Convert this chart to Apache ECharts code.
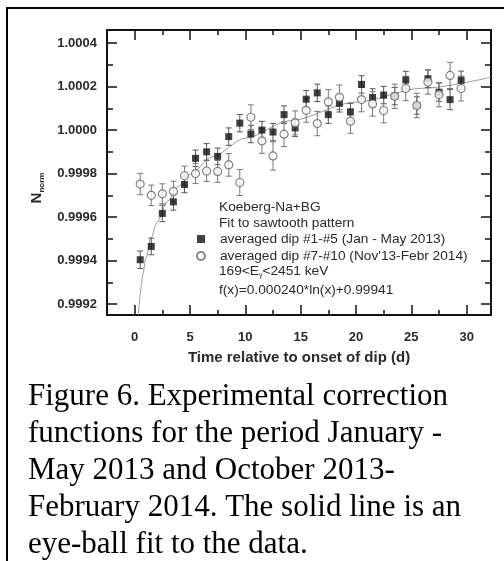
<!DOCTYPE html>
<html><head><meta charset="utf-8">
<script src="https://cdn.jsdelivr.net/npm/echarts@6/dist/echarts.min.js"></script>
<style>html,body{margin:0;padding:0;background:#fff;}#c{width:504px;height:561px;}</style>
</head><body><div id="c"></div>
<script>
// ---- data ----
const days = [0.5,1.5,2.5,3.5,4.5,5.5,6.5,7.5,8.5,9.5,10.5,11.5,12.5,13.5,14.5,15.5,16.5,17.5,18.5,19.5,20.5,21.5,22.5,23.5,24.5,25.5,26.5,27.5,28.5,29.5];
const dip1to5 = [0.999404,0.999465,0.999617,0.999670,0.999750,0.999870,0.999900,0.999879,0.999970,1.000032,0.999982,1.000000,0.999991,1.000071,1.000010,1.000142,1.000171,1.000071,1.000123,1.000083,1.000210,1.000150,1.000161,1.000156,1.000230,1.000113,1.000236,1.000174,1.000140,1.000229];
const dip1to5Err = [0.000040,0.000038,0.000038,0.000038,0.000038,0.000038,0.000038,0.000038,0.000040,0.000040,0.000040,0.000040,0.000040,0.000040,0.000040,0.000040,0.000040,0.000040,0.000040,0.000040,0.000040,0.000040,0.000040,0.000040,0.000040,0.000040,0.000040,0.000042,0.000046,0.000042];
const dip7to10 = [0.999752,0.999700,0.999707,0.999718,0.999790,0.999800,0.999812,0.999810,0.999840,0.999759,1.000059,0.999950,0.999881,0.999981,1.000033,1.000091,1.000030,1.000130,1.000151,1.000041,1.000140,1.000120,1.000090,1.000155,1.000191,1.000113,1.000221,1.000163,1.000251,1.000191];
const dip7to10Err = [0.000049,0.000047,0.000046,0.000047,0.000044,0.000046,0.000048,0.000050,0.000052,0.000060,0.000057,0.000057,0.000065,0.000057,0.000055,0.000055,0.000056,0.000056,0.000056,0.000056,0.000056,0.000056,0.000057,0.000056,0.000056,0.000056,0.000056,0.000056,0.000060,0.000057];
// eye-ball fit curve
const fitX = [0.34,0.4,0.5,0.6,0.75,1,1.5,2,3,4,5,7,10,14,20,26,32.2];
const fitY = [0.999151,0.999190,0.999244,0.999287,0.999341,0.999410,0.999507,0.999576,0.999674,0.999743,0.999796,0.999877,0.999963,1.000043,1.000129,1.000192,1.000243];
const xMajorTicks = [0,5,10,15,20,25,30];
const xMinorTicks = [2.5,7.5,12.5,17.5,22.5,27.5];
const yMajorTicks = [0.9992,0.9994,0.9996,0.9998,1.0000,1.0002,1.0004];
const yMinorTicks = [0.9993,0.9995,0.9997,0.9999,1.0001,1.0003];
const name1 = 'averaged dip #1-#5 (Jan - May 2013)';
const name2 = "averaged dip #7-#10 (Nov'13-Febr 2014)";
const captionLines = ['Figure 6. Experimental correction','functions for the period January -','May 2013 and October 2013-','February 2014. The solid line is an','eye-ball fit to the data.'];

const X_MIN = -2.5, X_MAX = 32.2, Y_MIN = 0.99915, Y_MAX = 1.00046;
const SANS = '"Liberation Sans", Arial, sans-serif';
const AX = '#111';
const TXT = '#2a2a2a';

function xAx(pos, ticks, len, labels) {
  return {
    type: 'value', gridIndex: 0, position: pos, min: X_MIN, max: X_MAX,
    axisLine: { show: true, onZero: false, lineStyle: { color: AX, width: 2 } },
    axisTick: { show: true, inside: true, length: len, customValues: ticks, lineStyle: { color: AX, width: 1.5 } },
    axisLabel: labels ? { show: true, customValues: ticks, margin: 16, color: TXT, fontFamily: SANS, fontWeight: 'bold', fontSize: 13 } : { show: false },
    splitLine: { show: false }
  };
}
function yAx(pos, ticks, len, labels) {
  return {
    type: 'value', gridIndex: 0, position: pos, min: Y_MIN, max: Y_MAX,
    axisLine: { show: true, onZero: false, lineStyle: { color: AX, width: 2 } },
    axisTick: { show: true, inside: true, length: len, customValues: ticks, lineStyle: { color: AX, width: 1.5 } },
    axisLabel: labels ? { show: true, customValues: ticks, margin: 10, color: TXT, fontFamily: SANS, fontWeight: 'bold', fontSize: 13,
      formatter: v => v.toFixed(4) } : { show: false },
    splitLine: { show: false }
  };
}

const xAxes = [xAx('bottom', xMajorTicks, 10, true), xAx('bottom', xMinorTicks, 5, false), xAx('top', xMajorTicks, 10, false), xAx('top', xMinorTicks, 5, false)];
xAxes[0].name = 'Time relative to onset of dip (d)';
xAxes[0].nameLocation = 'middle';
xAxes[0].nameGap = 35;
xAxes[0].nameTextStyle = { color: TXT, fontFamily: SANS, fontWeight: 'bold', fontSize: 15 };
const yAxes = [yAx('left', yMajorTicks, 10, true), yAx('left', yMinorTicks, 6, false), yAx('right', yMajorTicks, 10, false), yAx('right', yMinorTicks, 6, false)];

function errRender(params, api) {
  const x = api.value(0), lo = api.value(1), hi = api.value(2);
  const a = api.coord([x, lo]), b = api.coord([x, hi]);
  const hw = 3;
  const st = { stroke: api.visual('color'), lineWidth: 1 };
  return { type: 'group', children: [
    { type: 'line', shape: { x1: a[0], y1: a[1], x2: b[0], y2: b[1] }, style: st },
    { type: 'line', shape: { x1: a[0] - hw, y1: a[1], x2: a[0] + hw, y2: a[1] }, style: st },
    { type: 'line', shape: { x1: b[0] - hw, y1: b[1], x2: b[0] + hw, y2: b[1] }, style: st }
  ]};
}

const err1 = days.map((d, i) => [d, dip1to5[i] - dip1to5Err[i], dip1to5[i] + dip1to5Err[i]]);
const err2 = days.map((d, i) => [d, dip7to10[i] - dip7to10Err[i], dip7to10[i] + dip7to10Err[i]]);

const chart = echarts.init(document.getElementById('c'), null, { renderer: 'canvas' });
chart.setOption({
  animation: false,
  backgroundColor: '#fff',
  grid: { left: 107, right: 13, top: 30, bottom: 246, containLabel: false, outerBoundsMode: 'none' },
  xAxis: xAxes,
  yAxis: yAxes,
  legend: {
    data: [{ name: name1, icon: 'rect' }, { name: name2, icon: 'circle' }],
    orient: 'vertical', left: 196, top: 231, padding: 0,
    itemWidth: 8, itemHeight: 8, itemGap: 1, selectedMode: false,
    textStyle: { fontFamily: SANS, fontSize: 13.7, color: TXT, lineHeight: 16, padding: [0, 0, 0, 10] }
  },
  series: [
    { type: 'line', name: 'fit', data: fitX.map((x, i) => [x, fitY[i]]), smooth: 0.3, smoothMonotone: 'x',
      showSymbol: false, lineStyle: { color: '#999', width: 1 }, z: 1, clip: true, silent: true },
    { type: 'custom', name: 'err1', data: err1, renderItem: errRender, itemStyle: { color: '#555' }, z: 2, clip: true },
    { type: 'custom', name: 'err2', data: err2, renderItem: errRender, itemStyle: { color: '#777' }, z: 2, clip: true },
    { type: 'scatter', name: name1, data: days.map((d, i) => [d, dip1to5[i]]), symbol: 'rect', symbolSize: 7,
      itemStyle: { color: '#111' }, z: 3 },
    { type: 'scatter', name: name2, data: days.map((d, i) => [d, dip7to10[i]]), symbol: 'circle', symbolSize: 8,
      itemStyle: { color: '#fff', borderColor: '#666', borderWidth: 1.2 }, z: 4 }
  ],
  graphic: [
    { type: 'rect', shape: { x: 7, y: 8, width: 700, height: 700 }, style: { fill: 'none', stroke: '#000', lineWidth: 2 }, z: 0 },
    { type: 'text', x: 37, y: 188, rotation: Math.PI / 2,
      style: { text: '{n|N}{s|norm}', align: 'center', verticalAlign: 'middle',
        rich: { n: { fontFamily: SANS, fontWeight: 'bold', fontSize: 15, fill: TXT, lineHeight: 18 },
                s: { fontFamily: SANS, fontWeight: 'bold', fontSize: 8, fill: TXT, lineHeight: 18, padding: [9, 0, 0, 0] } } } },
    { type: 'text', x: 219, y: 207, style: { text: 'Koeberg-Na+BG', font: '13.7px ' + SANS, fill: TXT, verticalAlign: 'middle' } },
    { type: 'text', x: 219, y: 223, style: { text: 'Fit to sawtooth pattern', font: '13.7px ' + SANS, fill: TXT, verticalAlign: 'middle' } },
    { type: 'text', x: 219, y: 271, style: { text: '169<E{s|γ}<2451 keV', font: '13.7px ' + SANS, fill: TXT, verticalAlign: 'middle',
        rich: { s: { fontFamily: SANS, fontSize: 7, fill: TXT, padding: [8, 0, 0, 0] } } } },
    { type: 'text', x: 219, y: 290, style: { text: 'f(x)=0.000240*ln(x)+0.99941', font: '13.7px ' + SANS, fill: TXT, verticalAlign: 'middle' } },
    { type: 'text', x: 28, y: 378, style: { text: captionLines.join('\n'), font: '31px "Liberation Serif", "Times New Roman", serif', lineHeight: 37, fill: '#000' } }
  ]
});
</script></body></html>
